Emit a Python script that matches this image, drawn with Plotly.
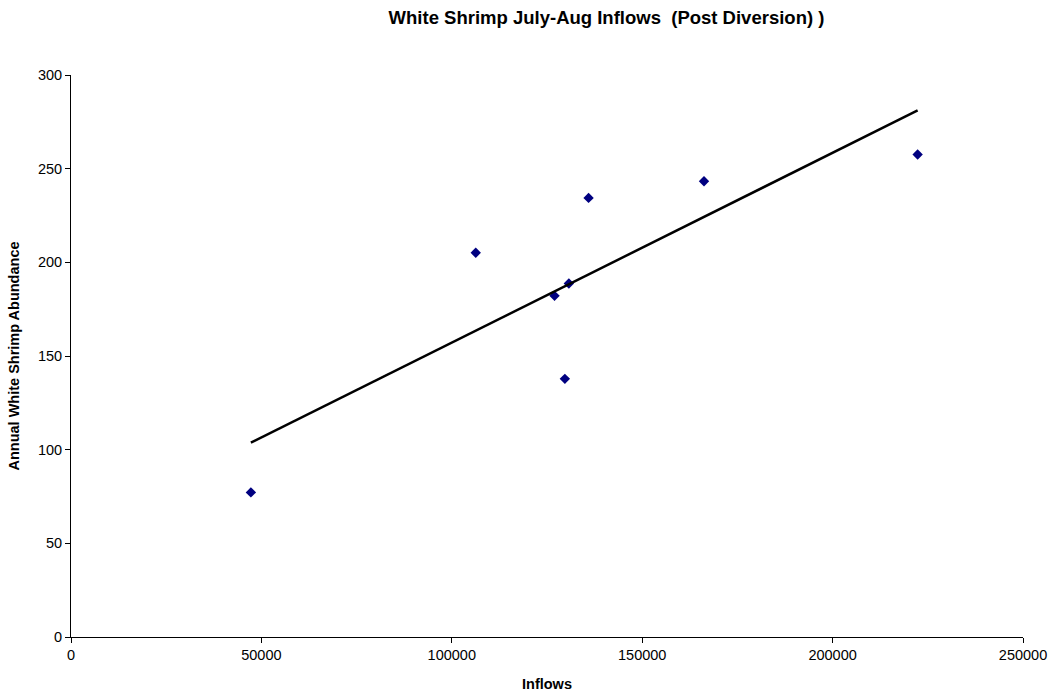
import numpy as np
import plotly.graph_objects as go

# July-Aug inflows and annual white shrimp abundance (post diversion years)
inflows = [47240, 106290, 126980, 129690, 130740, 135920, 166230, 222330]
abundance = [77.2, 205.1, 182.1, 137.8, 188.7, 234.4, 243.3, 257.6]

x_ticks = [0, 50000, 100000, 150000, 200000, 250000]
y_ticks = [0, 50, 100, 150, 200, 250, 300]

# least-squares linear trend across the observed inflow range
slope, intercept = np.polyfit(inflows, abundance, 1)
trend_x = [min(inflows), max(inflows)]
trend_y = [slope * v + intercept for v in trend_x]

fig = go.Figure()
fig.add_trace(go.Scatter(
    x=inflows, y=abundance, mode="markers",
    marker=dict(symbol="diamond", size=8, color="#000080"),
    showlegend=False,
))
fig.add_trace(go.Scatter(
    x=trend_x, y=trend_y, mode="lines",
    line=dict(color="black", width=2.5),
    showlegend=False,
))

font_family = "Liberation Sans, Arial, sans-serif"
tick_font = dict(family=font_family, size=14.5, color="black")
label_font = dict(family=font_family, size=14.5, color="black")
axis_common = dict(
    showgrid=False, zeroline=False, showline=True, linecolor="black",
    linewidth=1, ticks="outside", ticklen=5, tickcolor="black",
    tickfont=tick_font, automargin=False,
)

fig.update_layout(
    width=1057, height=698,
    margin=dict(l=71, r=34, t=75, b=61),
    paper_bgcolor="white", plot_bgcolor="white",
    font=dict(family=font_family, color="black"),
    title=dict(
        text="<b>White Shrimp July-Aug Inflows  (Post Diversion) )</b>",
        x=606.5 / 1057, xref="container", xanchor="center",
        y=1 - 18 / 698, yref="container", yanchor="middle",
        font=dict(family=font_family, size=18.5, color="black"),
    ),
    xaxis=dict(
        range=[0, 250000], tickvals=x_ticks,
        ticktext=[str(v) for v in x_ticks],
        title=dict(text="<b>Inflows</b>", standoff=16, font=label_font),
        **axis_common,
    ),
    yaxis=dict(
        range=[0, 300], tickvals=y_ticks,
        ticktext=[str(v) for v in y_ticks],
        title=dict(text="<b>Annual White Shrimp Abundance</b>", standoff=14,
                   font=label_font),
        **axis_common,
    ),
)

fig.write_html("out.html")
